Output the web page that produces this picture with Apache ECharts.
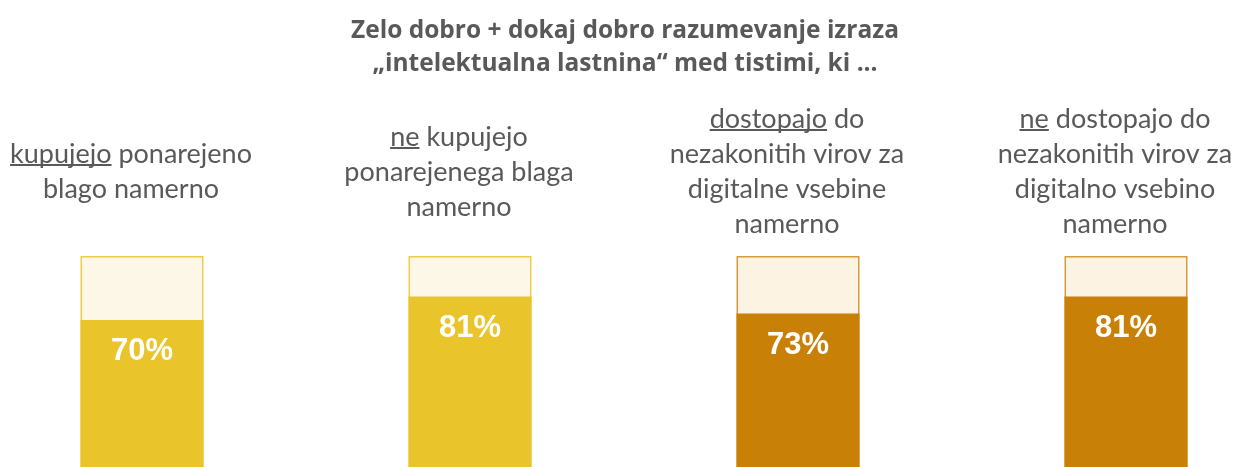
<!DOCTYPE html>
<html>
<head>
<meta charset="utf-8">
<script src="https://cdn.jsdelivr.net/npm/echarts@6/dist/echarts.min.js"></script>
<style>
  html, body { margin: 0; padding: 0; background: #fff; }
  #chart { width: 1234px; height: 467px; }
</style>
</head>
<body>
<div id="chart"></div>
<script>
// categories (the {u|...} part is underlined in the original)
const categories = [
  '{u|kupujejo} ponarejeno\nblago namerno',
  '{u|ne} kupujejo\nponarejenega blaga\nnamerno',
  '{u|dostopajo} do\nnezakonitih virov za\ndigitalne vsebine\nnamerno',
  '{u|ne} dostopajo do\nnezakonitih virov za\ndigitalno vsebino\nnamerno'
]
const values = [70, 81, 73, 81]
const fullValues = [100, 100, 100, 100]
const fillColors = ['#E9C42B', '#E9C42B', '#C88006', '#C88006']
const backColors = ['#FDF7E8', '#FDF7E8', '#FCF3E2', '#FCF3E2']
const borderColors = ['#EFCC48', '#EFCC48', '#D89A3A', '#D89A3A']

const textGray = '#595959'

const chart = echarts.init(document.getElementById('chart'), null, { renderer: 'canvas' })

const underline = {
  type: 'linear', x: 0, y: 0, x2: 0, y2: 1,
  colorStops: [
    { offset: 0, color: 'rgba(89,89,89,0)' },
    { offset: 0.87, color: 'rgba(89,89,89,0)' },
    { offset: 0.87, color: textGray },
    { offset: 0.93, color: textGray },
    { offset: 0.93, color: 'rgba(89,89,89,0)' },
    { offset: 1, color: 'rgba(89,89,89,0)' }
  ]
}

const option = {
  animation: false,
  title: {
    text: 'Zelo dobro + dokaj dobro razumevanje izraza\n„intelektualna lastnina“ med tistimi, ki ...',
    left: 620,
    top: 10,
    textAlign: 'center',
    textStyle: {
      fontFamily: 'Open Sans',
      fontWeight: 'bold',
      fontSize: 24.5,
      lineHeight: 33,
      color: textGray
    }
  },
  grid: { left: -22, right: -56, top: 256, bottom: -2, outerBoundsMode: 'none', containLabel: false },
  xAxis: {
    type: 'category',
    position: 'top',
    data: categories,
    axisLine: { show: false },
    axisTick: { show: false },
    axisLabel: {
      interval: 0,
      margin: 84,
      verticalAlign: 'middle',
      align: 'center',
      padding: [0, 22, 0, 0],
      fontFamily: 'Lato',
      fontSize: 27,
      lineHeight: 35,
      color: textGray,
      rich: {
        u: {
          fontFamily: 'Lato',
          fontSize: 27,
          lineHeight: 35,
          color: textGray,
          backgroundColor: underline
        }
      }
    }
  },
  yAxis: {
    type: 'value',
    min: 0,
    max: 100,
    show: false,
    splitLine: { show: false }
  },
  series: [
    {
      type: 'bar',
      barWidth: 123,
      barGap: '-100%',
      clip: false,
      silent: true,
      z: 1,
      data: fullValues.map((v, i) => ({
        value: v,
        itemStyle: { color: backColors[i], borderColor: borderColors[i], borderWidth: 1.5 }
      }))
    },
    {
      type: 'bar',
      barWidth: 123,
      barGap: '-100%',
      clip: false,
      z: 2,
      data: values.map((v, i) => ({
        value: v,
        itemStyle: { color: fillColors[i] }
      })),
      label: {
        show: true,
        position: 'insideTop',
        distance: 16,
        formatter: '{c}%',
        color: '#fff',
        fontFamily: 'Liberation Sans',
        fontWeight: 'bold',
        fontSize: 31
      }
    }
  ]
}

chart.setOption(option)
window.addEventListener('resize', chart.resize)
</script>
</body>
</html>
